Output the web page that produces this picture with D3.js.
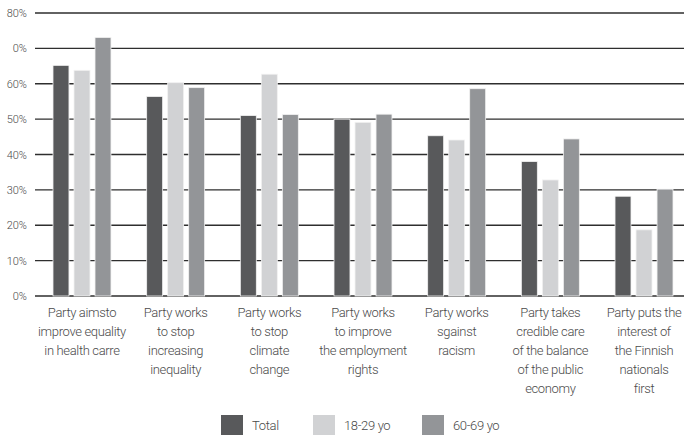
<!DOCTYPE html>
<html>
<head>
<meta charset="utf-8">
<script src="https://cdn.jsdelivr.net/npm/d3@7"></script>
<style>
  body { margin: 0; background: #fff; }
  svg text { font-family: Roboto, "Liberation Sans", sans-serif; font-weight: 300; fill: #4a4a4a; }
</style>
</head>
<body>
<svg id="chart" width="684" height="435"></svg>
<script>
// categories, one label line per entry
var categories = [
    ["Party aimsto", "improve equality", "in health carre"],
    ["Party works", "to stop", "increasing", "inequality"],
    ["Party works", "to stop", "climate", "change"],
    ["Party works", "to improve", "the employment", "rights"],
    ["Party works", "sgainst", "racism"],
    ["Party takes", "credible care", "of the balance", "of the public", "economy"],
    ["Party puts the", "interest of", "the Finnish", "nationals", "first"]
];

var seriesNames = ["Total", "18-29 yo", "60-69 yo"];
var seriesColors = ["#58595b", "#d1d2d4", "#939598"];

var totalValues = [65.2, 56.4, 51.0, 50.0, 45.3, 38.0, 28.2];
var youngValues = [63.8, 60.3, 62.7, 49.1, 44.1, 32.8, 18.7];
var oldValues = [73.1, 58.9, 51.3, 51.4, 58.6, 44.4, 30.2];

var tickValues = [0, 10, 20, 30, 40, 50, 60, 70, 80];
var tickLabels = ["0%", "10%", "20%", "30%", "40%", "50%", "60%", "0%", "80%"];

var svg = d3.select("#chart"),
    width = +svg.attr("width"),
    height = +svg.attr("height");

var series = [totalValues, youngValues, oldValues];

var x0 = d3.scaleBand()
    .domain(d3.range(categories.length))
    .range([35.2, 690.8])
    .paddingInner(0.381)
    .paddingOuter(0.19);

var x1 = d3.scaleBand()
    .domain(d3.range(series.length))
    .range([0, x0.bandwidth()])
    .paddingInner(0.24);

var y = d3.scaleLinear()
    .domain([0, 80])
    .range([296, 13]);

// gridlines
var grid = svg.append("g").attr("class", "grid");
grid.selectAll("line")
    .data(tickValues)
    .enter().append("line")
    .attr("x1", 35)
    .attr("x2", width)
    .attr("y1", function(d) { return y(d); })
    .attr("y2", function(d) { return y(d); })
    .attr("stroke", "#2e2e2e")
    .attr("stroke-width", 1.3);

// y tick labels
var yAxis = d3.axisLeft(y)
    .tickValues(tickValues)
    .tickSize(0)
    .tickPadding(0)
    .tickFormat(function(d, i) { return tickLabels[i]; });

var yg = svg.append("g")
    .attr("transform", "translate(27,0)")
    .call(yAxis);
yg.select(".domain").remove();
yg.selectAll("text")
    .attr("font-size", 11)
    .style("font-family", "Roboto, 'Liberation Sans', sans-serif");

// bars
var groups = svg.append("g")
    .selectAll("g")
    .data(categories)
    .enter().append("g")
    .attr("transform", function(d, i) { return "translate(" + x0(i) + ",0)"; });

groups.selectAll("rect")
    .data(function(d, i) {
        return series.map(function(s, j) { return {key: j, value: s[i]}; });
    })
    .enter().append("rect")
    .attr("x", function(d) { return x1(d.key); })
    .attr("width", x1.bandwidth())
    .attr("y", function(d) { return y(d.value); })
    .attr("height", function(d) { return y(0) - y(d.value); })
    .attr("fill", function(d) { return seriesColors[d.key]; })
    .attr("stroke", "#f2f2f2")
    .attr("stroke-width", 0.8);

// category labels
var labels = svg.append("g")
    .selectAll("text")
    .data(categories)
    .enter().append("text")
    .attr("text-anchor", "middle")
    .attr("font-size", 13)
    .attr("letter-spacing", -0.35)
    .attr("x", function(d, i) { return x0(i) + x0.bandwidth() / 2; })
    .attr("y", 317);

labels.selectAll("tspan")
    .data(function(d) { return d; })
    .enter().append("tspan")
    .attr("x", function() { return d3.select(this.parentNode).attr("x"); })
    .attr("dy", function(d, i) { return i === 0 ? 0 : 19; })
    .text(function(d) { return d; });

// legend
var legendX = [221, 313, 422];
var legend = svg.append("g")
    .selectAll("g")
    .data(seriesNames)
    .enter().append("g")
    .attr("transform", function(d, i) { return "translate(" + legendX[i] + ",415)"; });

legend.append("rect")
    .attr("width", 22)
    .attr("height", 20)
    .attr("fill", function(d, i) { return seriesColors[i]; });

legend.append("text")
    .attr("x", 31)
    .attr("y", 15)
    .attr("font-size", 13)
    .attr("letter-spacing", -0.35)
    .text(function(d) { return d; });
</script>
</body>
</html>
